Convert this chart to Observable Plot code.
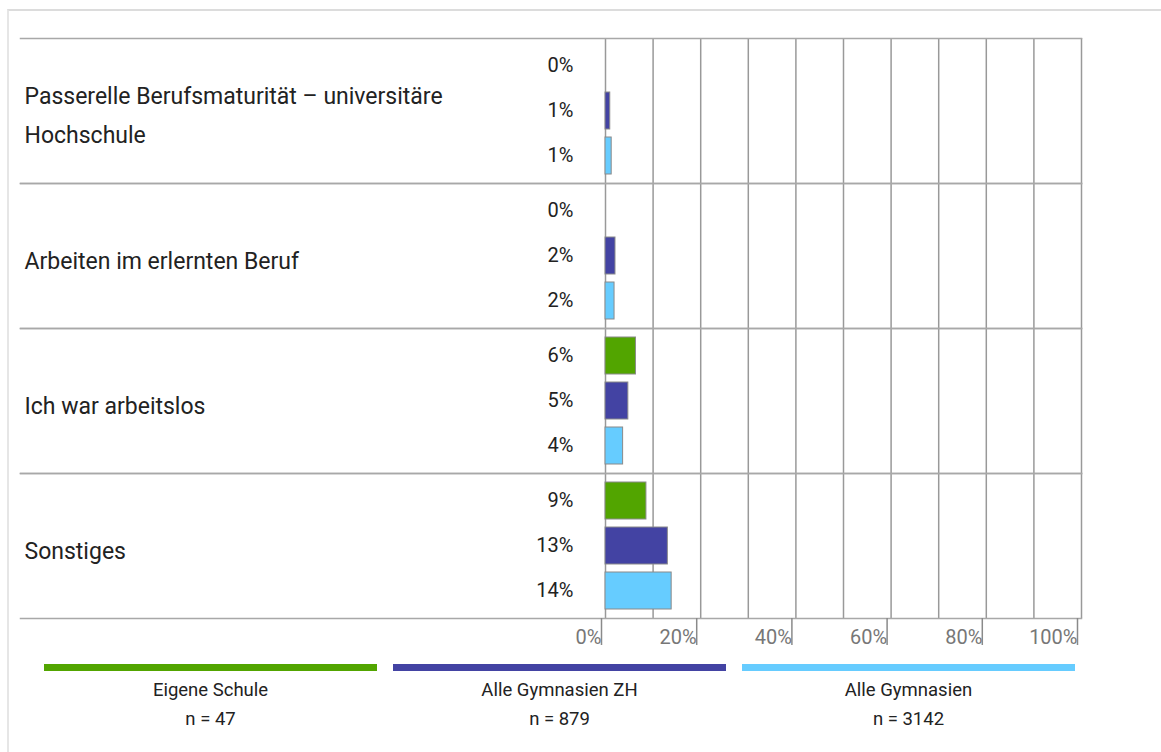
<!DOCTYPE html>
<html>
<head>
<meta charset="utf-8">
<script src="https://cdn.jsdelivr.net/npm/d3@7"></script>
<script src="https://cdn.jsdelivr.net/npm/@observablehq/plot@0.6"></script>
<style>
  html, body { margin: 0; padding: 0; background: #fff; }
  body { width: 1161px; height: 752px; overflow: hidden; position: relative; font-family: Roboto, "DejaVu Sans", sans-serif; }
  #frame { position: absolute; left: 7px; top: 9px; width: 1200px; height: 800px; border-top: 2px solid #dcdcdc; border-left: 2px solid #e6e6e6; }
  #chart { position: absolute; left: 0; top: 0; }
  #legend { position: absolute; left: 44px; top: 664px; display: flex; gap: 16px; }
  .item { width: 333px; text-align: center; color: #222; font-size: 18.5px; }
  .swatch { height: 7px; margin-bottom: 5px; }
  .item div.t { line-height: 29px; }
</style>
</head>
<body>
<div id="frame"></div>
<div id="chart"></div>
<div id="legend"></div>
<script>
const categories = [
  "Passerelle Berufsmaturität – universitäre Hochschule",
  "Arbeiten im erlernten Beruf",
  "Ich war arbeitslos",
  "Sonstiges"
];
const series = ["Eigene Schule", "Alle Gymnasien ZH", "Alle Gymnasien"];
const sampleSizes = [47, 879, 3142];
const eigeneSchule = [0, 0, 6.4, 8.6];
const alleGymnasienZH = [1.0, 2.1, 4.8, 13.1];
const alleGymnasien = [1.3, 1.9, 3.7, 13.9];
const seriesColors = ["#52a500", "#4343a3", "#66ccff"];
const gridValues = [0, 10, 20, 30, 40, 50, 60, 70, 80, 90, 100];
const axisTicks = [0, 20, 40, 60, 80, 100];

const valuesBySeries = [eigeneSchule, alleGymnasienZH, alleGymnasien];
const rows = [];
categories.forEach((c, i) => {
  series.forEach((s, j) => {
    rows.push({category: c, series: s, value: valuesBySeries[j][i]});
  });
});

const chart = Plot.plot({
  width: 1161,
  height: 650,
  marginTop: 38,
  marginBottom: 32,
  marginLeft: 20,
  marginRight: 80,
  style: {fontFamily: "Roboto, 'DejaVu Sans', sans-serif", background: "transparent", overflow: "visible"},
  x: {domain: [0, 100], range: [605, 1081], axis: null, label: null},
  y: {domain: series, padding: 0.18, axis: null},
  fy: {domain: categories, padding: 0, axis: null},
  color: {domain: series, range: seriesColors},
  marks: [
    Plot.ruleX(gridValues, {x: d => d, stroke: "#999", strokeWidth: 1.5, strokeOpacity: 1}),
    Plot.frame({anchor: "top", stroke: "#a8a8a8", strokeWidth: 1.5, strokeOpacity: 1}),
    Plot.frame({anchor: "bottom", stroke: "#a8a8a8", strokeWidth: 1.5, strokeOpacity: 1}),
    Plot.barX(rows, {x: "value", y: "series", fy: "category", fill: "series", stroke: "#8a8a8a", strokeWidth: 1}),
    Plot.text(rows, {x: 0, y: "series", fy: "category", text: d => Math.round(d.value) + "%", textAnchor: "end", dx: -32, fontSize: 20, fill: "#222"}),
    Plot.text(categories, {fy: d => d, text: d => d, frameAnchor: "left", textAnchor: "start", dx: 4, fontSize: 23, lineWidth: 20, lineHeight: 1.72, fill: "#222"}),
    Plot.axisX({ticks: axisTicks, tickSize: 27, tickPadding: -16, tickFormat: d => d + "%", label: null, textAnchor: "end", dx: -4, fontSize: 20, stroke: "#8a8a8a", fill: "#777", strokeWidth: 1.5})
  ]
});
document.getElementById("chart").appendChild(chart);

const legend = document.getElementById("legend");
series.forEach((s, j) => {
  const item = document.createElement("div");
  item.className = "item";
  item.innerHTML = `<div class="swatch" style="background:${seriesColors[j]}"></div><div class="t">${s}</div><div class="t">n = ${sampleSizes[j]}</div>`;
  legend.appendChild(item);
});
</script>
</body>
</html>
